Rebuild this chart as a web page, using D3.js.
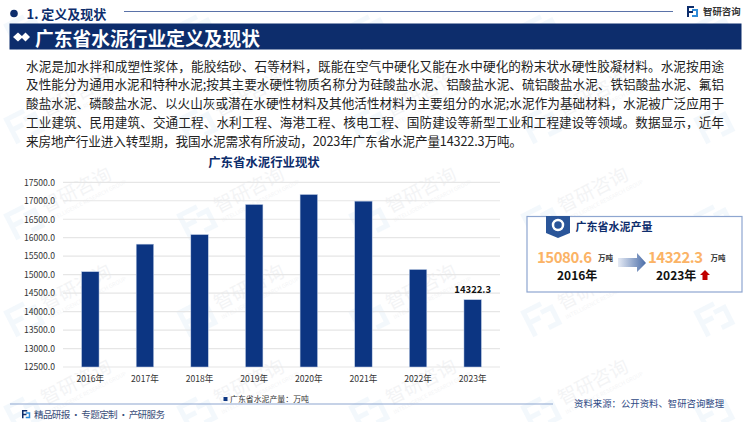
<!DOCTYPE html>
<html>
<head>
<meta charset="utf-8">
<script src="https://cdn.jsdelivr.net/npm/d3@7"></script>
<style>
html, body { margin: 0; padding: 0; background: #fff; }
svg { display: block; }
text { font-family: "Noto Sans CJK SC", "Noto Sans", sans-serif; }
</style>
</head>
<body>
<svg id="canvas" width="750" height="422"></svg>
<script>
const years = ['2016年', '2017年', '2018年', '2019年', '2020年', '2021年', '2022年', '2023年'];
const output = [15080.6, 15826, 16085, 16900, 17170, 16990, 15140, 14322.3];
const yTicks = [12500, 13000, 13500, 14000, 14500, 15000, 15500, 16000, 16500, 17000, 17500];
const bodyLines = [
  '水泥是加水拌和成塑性浆体，能胶结砂、石等材料，既能在空气中硬化又能在水中硬化的粉末状水硬性胶凝材料。水泥按用途',
  '及性能分为通用水泥和特种水泥;按其主要水硬性物质名称分为硅酸盐水泥、铝酸盐水泥、硫铝酸盐水泥、铁铝酸盐水泥、氟铝',
  '酸盐水泥、磷酸盐水泥、以火山灰或潜在水硬性材料及其他活性材料为主要组分的水泥;水泥作为基础材料，水泥被广泛应用于',
  '工业建筑、民用建筑、交通工程、水利工程、海港工程、核电工程、国防建设等新型工业和工程建设等领域。数据显示，近年',
  '来房地产行业进入转型期，我国水泥需求有所波动，2023年广东省水泥产量14322.3万吨。'
];

const navy = '#0d2d6c';
const barBlue = '#0c3582';
const svg = d3.select('#canvas');

// faint watermark behind everything
const wm = svg.append('g');
const wmCols = [5, 178, 350, 522, 695];
const wmRows = [28, 122, 218, 315, 410];
wmRows.forEach((wy, r) => {
  wmCols.forEach((wx, c) => {
    const g = wm.append('g').attr('transform', `translate(${wx},${wy}) rotate(-27)`);
    g.append('path')
      .attr('d', 'M0,-4h22v5h-17v7h10v5h-10v12h-5z M18,4h14v22h-14v-5h9v-12h-9z')
      .attr('fill', '#5b9bd5').attr('opacity', 0.07);
    // top row and right column would run off the page, so logo only there
    if (r > 0 && c < 4) {
      g.append('text').attr('x', 38).attr('y', 14)
        .attr('font-size', 19).attr('fill', '#44546a').attr('opacity', 0.06).text('智研咨询');
      g.append('text').attr('x', 38).attr('y', 24)
        .attr('font-size', 5.5).attr('fill', '#44546a').attr('opacity', 0.06).text('INTELLIGENCE RESEARCH GROUP');
    }
  });
});

// top heading
svg.append('circle').attr('cx', 14).attr('cy', 13.5).attr('r', 3.8).attr('fill', navy);
svg.append('text').attr('x', 26.5).attr('y', 19).attr('font-size', 13).attr('font-weight', 700)
  .attr('fill', navy).text('1. 定义及现状');
svg.append('line').attr('x1', 124).attr('x2', 673).attr('y1', 11.5).attr('y2', 11.5)
  .attr('stroke', '#5a72a8').attr('stroke-width', 1);

// logo top right
const logo = (x, y, s) => {
  const g = svg.append('g').attr('transform', `translate(${x},${y}) scale(${s})`);
  g.append('path').attr('d', 'M0,0h7v2h-5v3h4v2h-4v4h-2z').attr('fill', '#0d2d6c');
  g.append('path').attr('d', 'M5,3h6v8h-6v-2h4v-4h-4z').attr('fill', '#2e8bd8');
};
logo(687, 6, 1);
svg.append('text').attr('x', 703).attr('y', 15).attr('font-size', 9.4).attr('font-weight', 700)
  .attr('fill', '#333').text('智研咨询');

// title band
svg.append('rect').attr('x', 9.5).attr('y', 23.5).attr('width', 732).attr('height', 26).attr('fill', navy);
svg.append('path').attr('d', 'M13,37l5,-4.5l5,4.5l-5,4.5z').attr('fill', '#fff');
svg.append('path').attr('d', 'M21,37l4.5,-4.5l4.5,4.5l-4.5,4.5z').attr('fill', '#fff');
svg.append('text').attr('x', 35).attr('y', 46).attr('font-size', 18.75).attr('font-weight', 700)
  .attr('fill', '#fff').text('广东省水泥行业定义及现状');

// paragraph
svg.append('g').selectAll('text').data(bodyLines).enter().append('text')
  .attr('x', 26).attr('y', (d, i) => 70.5 + i * 18.9)
  .attr('font-size', 12.6).attr('fill', '#222')
  .attr('textLength', (d, i) => i === 4 ? 496 : 698)
  .attr('lengthAdjust', 'spacing')
  .text((d) => d);

// chart
svg.append('text').attr('x', 264).attr('y', 166.5).attr('text-anchor', 'middle')
  .attr('font-size', 12.4).attr('font-weight', 700).attr('fill', navy).text('广东省水泥行业现状');

const x = d3.scaleBand().domain(years).range([63, 500]).paddingInner(0.68).paddingOuter(0.34);
const y = d3.scaleLinear().domain([12500, 17500]).range([367, 182.3]);

svg.append('g').selectAll('line').data(yTicks).enter().append('line')
  .attr('x1', 63).attr('x2', 500)
  .attr('y1', (d) => y(d)).attr('y2', (d) => y(d))
  .attr('stroke', '#e6e6e6').attr('stroke-width', 1.2);

const yAxis = svg.append('g').attr('transform', 'translate(63,0)')
  .call(d3.axisLeft(y).tickValues(yTicks).tickFormat(d3.format('.1f')).tickSize(0).tickPadding(8));
yAxis.select('.domain').remove();
yAxis.selectAll('text').attr('font-size', 8.6).attr('fill', '#333')
  .style('font-family', '"Noto Sans CJK SC", sans-serif');

svg.append('g').selectAll('rect').data(output).enter().append('rect')
  .attr('x', (d, i) => x(years[i]))
  .attr('y', (d) => y(d))
  .attr('width', x.bandwidth())
  .attr('height', (d) => y(12500) - y(d))
  .attr('fill', barBlue)
  .attr('stroke', '#c5d3ea').attr('stroke-width', 0.5);

const xAxis = svg.append('g').attr('transform', 'translate(0,367)')
  .call(d3.axisBottom(x).tickSize(0).tickPadding(9));
xAxis.select('.domain').remove();
xAxis.selectAll('text').attr('font-size', 8.6).attr('fill', '#333')
  .style('font-family', '"Noto Sans CJK SC", sans-serif');

svg.append('text').attr('x', x(years[7]) + x.bandwidth() / 2).attr('y', y(14322.3) - 7)
  .attr('text-anchor', 'middle').attr('font-size', 9.5).attr('font-weight', 700).attr('fill', '#111')
  .text('14322.3');

// legend
svg.append('rect').attr('x', 223.5).attr('y', 397).attr('width', 4).attr('height', 4).attr('fill', barBlue);
svg.append('text').attr('x', 230).attr('y', 402).attr('font-size', 7.9).attr('fill', '#333')
  .text('广东省水泥产量：万吨');

// stat box
svg.append('rect').attr('x', 527).attr('y', 216.5).attr('width', 215).attr('height', 75.5)
  .attr('fill', '#fff').attr('stroke', '#8ea6d0').attr('stroke-width', 1.2);
svg.append('path').attr('d', 'M546,216h24v17l-12,5l-12,-5z').attr('fill', '#2a5599');
svg.append('circle').attr('cx', 558).attr('cy', 225).attr('r', 5).attr('fill', '#2a5599')
  .attr('stroke', '#fff').attr('stroke-width', 2.5);
svg.append('text').attr('x', 575.5).attr('y', 231).attr('font-size', 11).attr('font-weight', 700)
  .attr('fill', navy).text('广东省水泥产量');

const defs = svg.append('defs');
const grad = defs.append('linearGradient').attr('id', 'arrowFade');
grad.append('stop').attr('offset', '0%').attr('stop-color', '#e6ebf5');
grad.append('stop').attr('offset', '100%').attr('stop-color', '#4a6da8');
svg.append('path').attr('d', 'M618,258h19v-5l9,10l-9,9v-5h-19z').attr('fill', 'url(#arrowFade)');

svg.append('text').attr('x', 537).attr('y', 262.5).attr('font-size', 15).attr('font-weight', 700)
  .attr('fill', '#fbb366').attr('textLength', 55).text('15080.6');
svg.append('text').attr('x', 598).attr('y', 261).attr('font-size', 7.5).attr('font-weight', 700)
  .attr('fill', '#333').text('万吨');
svg.append('text').attr('x', 648).attr('y', 262.5).attr('font-size', 15).attr('font-weight', 700)
  .attr('fill', '#fbb366').attr('textLength', 55).text('14322.3');
svg.append('text').attr('x', 710.5).attr('y', 261).attr('font-size', 7.5).attr('font-weight', 700)
  .attr('fill', '#333').text('万吨');
svg.append('text').attr('x', 557).attr('y', 280).attr('font-size', 12).attr('font-weight', 700)
  .attr('fill', '#111').text('2016年');
svg.append('text').attr('x', 656).attr('y', 280).attr('font-size', 12).attr('font-weight', 700)
  .attr('fill', '#111').text('2023年');
svg.append('path').attr('d', 'M700,275l5,-5l5,5h-2.5v5h-5v-5z').attr('fill', '#c00000');

// footer
svg.append('line').attr('x1', 10).attr('x2', 553).attr('y1', 404).attr('y2', 404)
  .attr('stroke', '#8ea6d0').attr('stroke-width', 1.2);
logo(22, 410, 0.75);
svg.append('text').attr('x', 34).attr('y', 418).attr('font-size', 9.6).attr('fill', '#3b4e7a')
  .attr('textLength', 131).text('精品研报 · 专题定制 · 产研服务');
svg.append('text').attr('x', 574).attr('y', 407).attr('font-size', 9.4).attr('fill', '#2f4a85')
  .text('资料来源：公开资料、智研咨询整理');
</script>
</body>
</html>
